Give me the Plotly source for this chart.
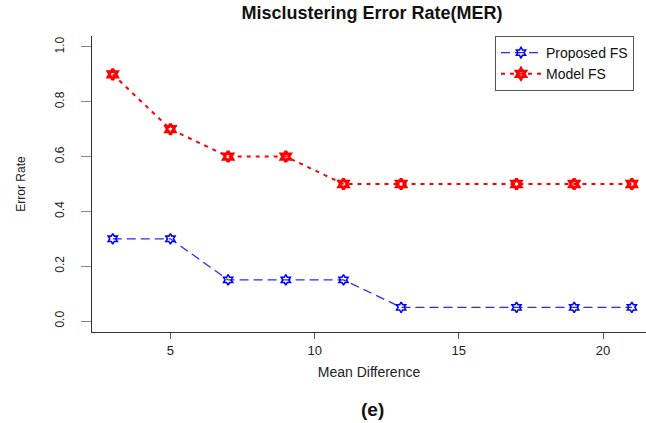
import plotly.graph_objects as go

mean_diff = [3, 5, 7, 9, 11, 13, 17, 19, 21]
proposed_fs = [0.30, 0.30, 0.15, 0.15, 0.15, 0.05, 0.05, 0.05, 0.05]
model_fs = [0.90, 0.70, 0.60, 0.60, 0.50, 0.50, 0.50, 0.50, 0.50]
x_ticks = [5, 10, 15, 20]
y_ticks = [0.0, 0.2, 0.4, 0.6, 0.8, 1.0]

FONT = "Liberation Sans, Arial, sans-serif"

fig = go.Figure()
fig.add_trace(go.Scatter(
    x=mean_diff, y=proposed_fs, mode="lines+markers", name="Proposed FS",
    line=dict(color="#2a2aff", width=1.3, dash="9px,5px"),
    marker=dict(symbol="hexagram-open", size=8, color="#0000ff",
                line=dict(color="#0000ff", width=1.6)),
))
fig.add_trace(go.Scatter(
    x=mean_diff, y=model_fs, mode="lines+markers", name="Model FS",
    line=dict(color="#ff0000", width=2, dash="4px,5px"),
    marker=dict(symbol="hexagram-open", size=8, color="#ff0000",
                line=dict(color="#ff0000", width=3)),
))

fig.update_layout(
    width=646, height=423,
    margin=dict(l=92, r=0, t=36, b=91),
    plot_bgcolor="white", paper_bgcolor="white",
    font=dict(family=FONT, color="#222"),
    title=dict(text="<b>Misclustering Error Rate(MER)</b>",
               x=(372 - 92) / 554, xref="paper", xanchor="center",
               y=1 - 13 / 423, yanchor="middle",
               font=dict(size=18, color="#111", family=FONT)),
    showlegend=True,
    legend=dict(x=(495 - 92) / 554, y=1.0, xanchor="left", yanchor="top",
                bordercolor="#555", borderwidth=1, bgcolor="white",
                font=dict(size=14, color="#111", family=FONT),
                itemwidth=40, tracegroupgap=0),
    xaxis=dict(range=[2.28, 21.49], showgrid=False, zeroline=False,
               showline=True, linecolor="#333", linewidth=1,
               tickmode="array", tickvals=x_ticks,
               ticks="outside", ticklen=6, tickcolor="#555", tickwidth=1,
               tickfont=dict(size=13, color="#222"),
               title=dict(text="Mean Difference", standoff=10,
                          font=dict(size=14, color="#222"))),
    yaxis=dict(range=[-0.04, 1.04], showgrid=False, zeroline=False,
               showline=True, linecolor="#333", linewidth=1,
               tickmode="array", tickvals=y_ticks, tickformat=".1f",
               ticks="outside", ticklen=10, tickcolor="#888", tickwidth=1,
               tickangle=-90, ticklabelstandoff=12,
               tickfont=dict(size=12, color="#222"),
               title=dict(text="Error Rate", standoff=25,
                          font=dict(size=12, color="#222"))),
    annotations=[dict(text="<b>(e)</b>", xref="paper", yref="paper",
                      x=(372 - 92) / 554, y=(332 - 409) / 296,
                      showarrow=False, xanchor="center", yanchor="middle",
                      font=dict(size=19, color="#111", family=FONT))],
)

fig.write_html("out.html",
               config={"displayModeBar": False},
               post_script="document.body.style.margin='0px';"
                           "document.body.style.overflow='hidden';")
